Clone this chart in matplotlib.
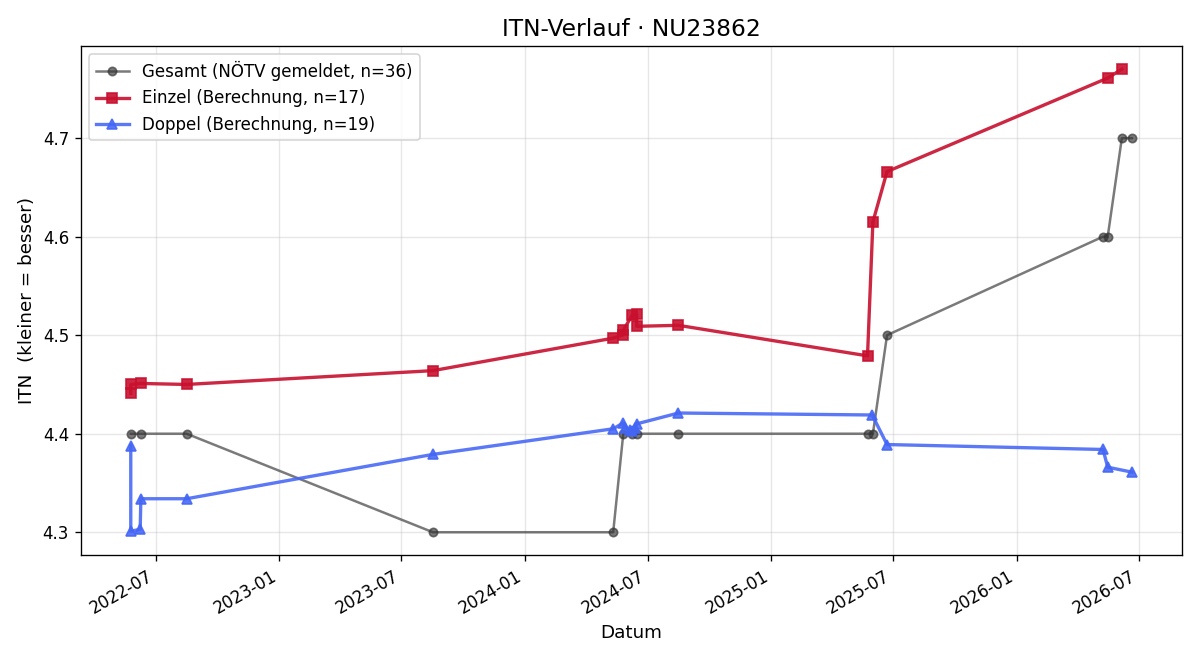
import matplotlib
matplotlib.use("Agg")
import matplotlib.pyplot as plt
import matplotlib.dates as mdates
import pandas as pd

gesamt_dates = ["2022-05-25", "2022-06-09", "2022-08-16", "2023-08-17", "2024-05-11",
                "2024-05-26", "2024-06-08", "2024-06-15", "2024-08-16", "2025-05-25",
                "2025-06-01", "2025-06-22", "2026-05-09", "2026-05-16", "2026-06-06",
                "2026-06-21"]
gesamt_vals = [4.4, 4.4, 4.4, 4.3, 4.3, 4.4, 4.4, 4.4, 4.4, 4.4, 4.4, 4.5, 4.6, 4.6, 4.7, 4.7]

einzel_dates = ["2022-05-25", "2022-05-25", "2022-06-09", "2022-08-16", "2023-08-17",
                "2024-05-11", "2024-05-25", "2024-05-26", "2024-06-08", "2024-06-15",
                "2024-06-15", "2024-08-16", "2025-05-24", "2025-06-01", "2025-06-22",
                "2026-05-16", "2026-06-06"]
einzel_vals = [4.441, 4.450, 4.451, 4.450, 4.464, 4.497, 4.500, 4.505, 4.520, 4.521,
               4.509, 4.510, 4.479, 4.615, 4.666, 4.761, 4.770]

doppel_dates = ["2022-05-25", "2022-05-25", "2022-06-08", "2022-06-09", "2022-08-16",
                "2023-08-17", "2024-05-11", "2024-05-26", "2024-05-28", "2024-06-05",
                "2024-06-08", "2024-06-12", "2024-06-15", "2024-08-16", "2025-05-31",
                "2025-06-22", "2026-05-09", "2026-05-16", "2026-06-21"]
doppel_vals = [4.388, 4.301, 4.303, 4.334, 4.334, 4.379, 4.405, 4.411, 4.406, 4.404,
               4.403, 4.406, 4.410, 4.421, 4.419, 4.389, 4.384, 4.366, 4.361]

fig, ax = plt.subplots(figsize=(10, 5.5), dpi=120)

ax.plot(pd.to_datetime(gesamt_dates), gesamt_vals, marker="o", color="#333333", alpha=0.65,
        linewidth=1.5, markersize=5, label="Gesamt (NÖTV gemeldet, n=36)")
ax.plot(pd.to_datetime(einzel_dates), einzel_vals, marker="s", color="#C8102E", alpha=0.9,
        linewidth=2, markersize=6, label="Einzel (Berechnung, n=17)")
ax.plot(pd.to_datetime(doppel_dates), doppel_vals, marker="^", color="#4466F5", alpha=0.88,
        linewidth=2, markersize=6, label="Doppel (Berechnung, n=19)")

ax.set_title("ITN-Verlauf · NU23862", fontsize=14)
ax.set_xlabel("Datum", fontsize=11)
ax.set_ylabel("ITN  (kleiner = besser)", fontsize=11)
ax.grid(True, alpha=0.3)
ax.legend(loc="upper left")
ax.xaxis.set_major_locator(mdates.MonthLocator(bymonth=[1, 7]))
ax.xaxis.set_major_formatter(mdates.DateFormatter("%Y-%m"))
fig.autofmt_xdate()
fig.tight_layout()
fig.savefig("out.png")
